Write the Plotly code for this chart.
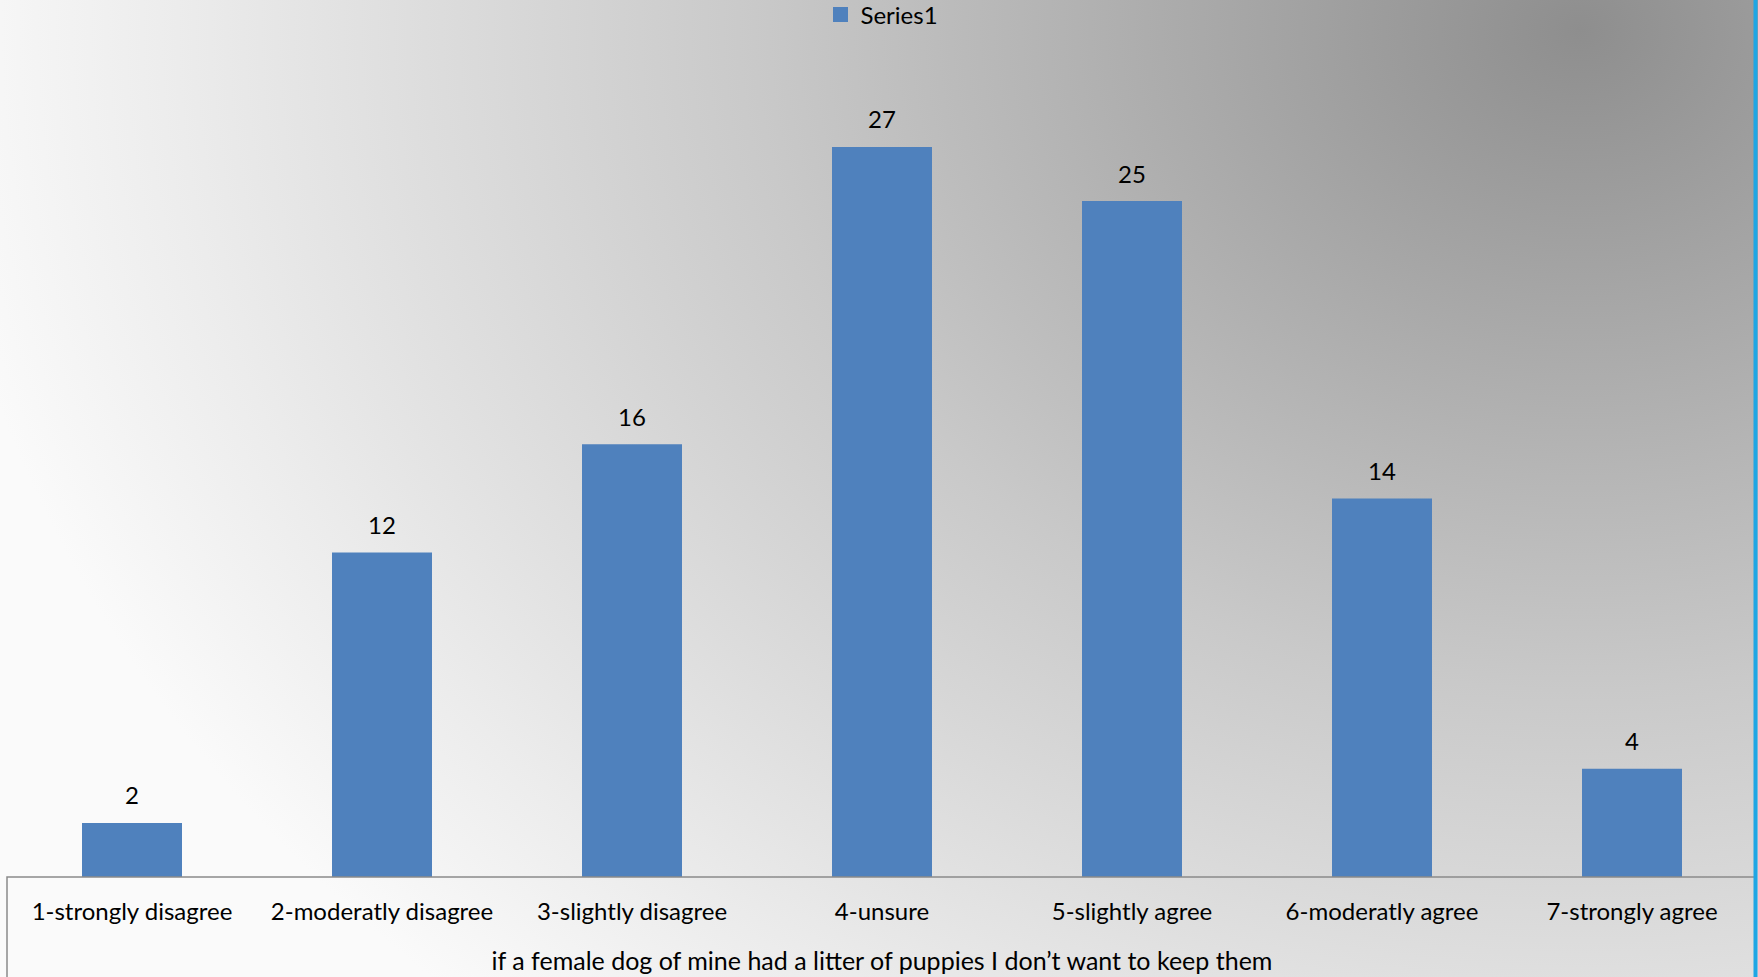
import base64
import plotly.graph_objects as go

categories = ["1-strongly disagree", "2-moderatly disagree", "3-slightly disagree",
              "4-unsure", "5-slightly agree", "6-moderatly agree", "7-strongly agree"]
values = [2, 12, 16, 27, 25, 14, 4]
series_name = "Series1"
x_title = "if a female dog of mine had a litter of puppies I don\u2019t want to keep them"

W, H = 1758, 977
ML, MR, MT, MB = 7, 1, 55, 100
PW, PH = W - ML - MR, H - MT - MB
FONT = "Lato"
BAR_COLOR = "#4f81bd"

svg = (
    f"<svg xmlns='http://www.w3.org/2000/svg' width='{W}' height='{H}' viewBox='0 0 {W} {H}' preserveAspectRatio='none'>"
    "<defs><radialGradient id='g' gradientUnits='userSpaceOnUse' cx='1580' cy='30' r='1650' "
    "gradientTransform='translate(1580 30) scale(1 0.8) translate(-1580 -30)'>"
    "<stop offset='0' stop-color='#8e8e8e'/><stop offset='0.5' stop-color='#c9c9c9'/>"
    "<stop offset='0.85' stop-color='#ececec'/>"
    "<stop offset='1' stop-color='#fafafa'/></radialGradient></defs>"
    f"<rect width='{W}' height='{H}' fill='url(#g)'/></svg>"
)
src = "data:image/svg+xml;base64," + base64.b64encode(svg.encode()).decode()

fig = go.Figure()
fig.add_trace(go.Bar(
    x=categories, y=values, name=series_name,
    marker=dict(color=BAR_COLOR, line=dict(width=0)),
    width=0.4,
    showlegend=False,
))
# legend entry with a larger square swatch
fig.add_trace(go.Scatter(
    x=[None], y=[None], mode="markers", name=series_name,
    marker=dict(symbol="square", size=15, color=BAR_COLOR),
    showlegend=True,
))

annotations = [
    dict(x=c, y=v, xref="x", yref="y", text=str(v), showarrow=False,
         yshift=28, yanchor="middle", font=dict(size=24, color="#000000", family=FONT))
    for c, v in zip(categories, values)
]

fig.update_layout(
    width=W, height=H,
    margin=dict(l=ML, r=MR, t=MT, b=MB, autoexpand=False),
    paper_bgcolor="rgba(0,0,0,0)", plot_bgcolor="rgba(0,0,0,0)",
    font=dict(family=FONT, size=24, color="#000000"),
    showlegend=True,
    legend=dict(orientation="h", x=0.5, xanchor="center", yref="container",
                y=1 - 15 / H, yanchor="middle", font=dict(size=24),
                bgcolor="rgba(0,0,0,0)", itemwidth=30),
    xaxis=dict(showline=False, showgrid=False, ticks="", ticklabelstandoff=18,
               tickfont=dict(size=24),
               title=dict(text=x_title, standoff=28, font=dict(size=25))),
    yaxis=dict(range=[0, 30.4], visible=False, showgrid=False),
    annotations=annotations,
    images=[dict(source=src, xref="paper", yref="paper",
                 x=-ML / PW, y=1 + MT / PH, sizex=W / PW, sizey=H / PH,
                 xanchor="left", yanchor="top", sizing="stretch", layer="below")],
    shapes=[
        dict(type="rect", xref="paper", yref="paper",
             x0=0, x1=(1755 - ML) / PW, y0=0, y1=-(MB + 20) / PH,
             line=dict(color="#8a8a8a", width=1.5), fillcolor="rgba(0,0,0,0)", layer="above"),
        dict(type="line", xref="paper", yref="paper",
             x0=(1755.5 - ML) / PW, x1=(1755.5 - ML) / PW, y0=-MB / PH, y1=1 + MT / PH,
             line=dict(color="#1fa6e4", width=4)),
    ],
)

fig.write_html("out.html", config={"displayModeBar": False},
               post_script="document.body.style.margin='0px';document.body.style.overflow='hidden';")
